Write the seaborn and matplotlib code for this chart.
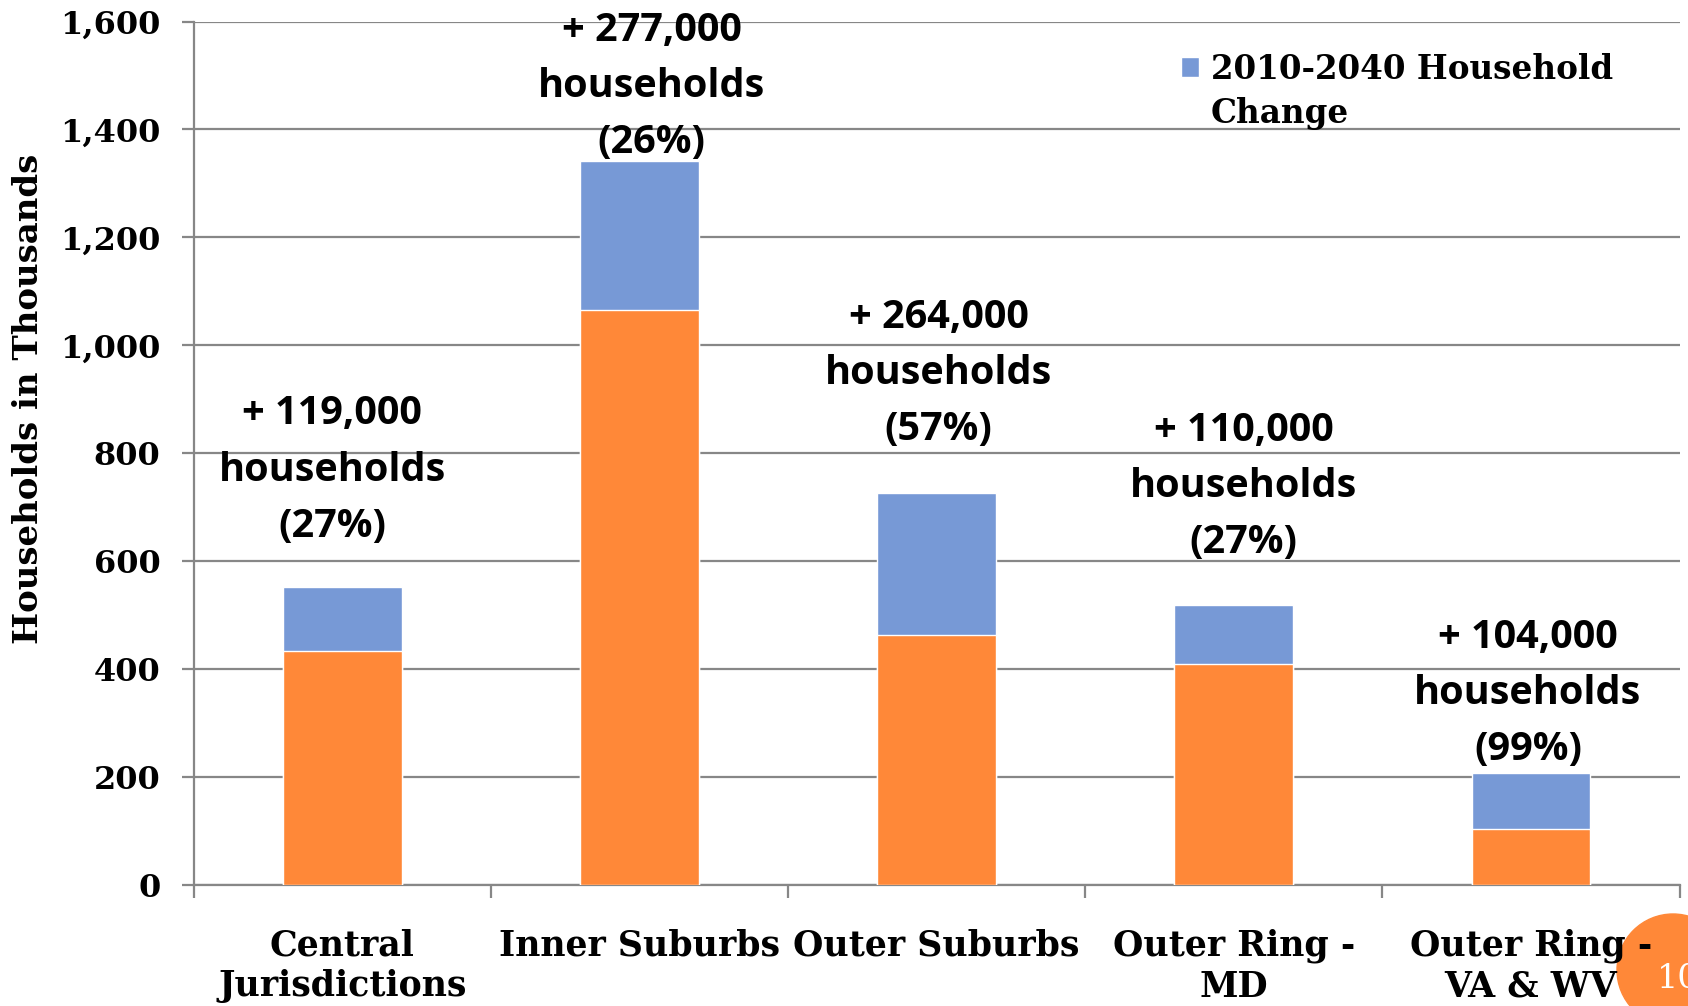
import matplotlib
matplotlib.use("Agg")
import matplotlib.pyplot as plt
import matplotlib.ticker as mticker
from matplotlib.patches import Ellipse
import pandas as pd
import seaborn as sns

# --- Data ---
regions = ["Central\nJurisdictions", "Inner Suburbs", "Outer Suburbs",
           "Outer Ring -\nMD", "Outer Ring -\nVA & WV"]
households_2010 = [433, 1065, 463, 409, 104]
household_change = [119, 277, 264, 110, 104]
change_labels = ["+ 119,000\nhouseholds\n(27%)", "+ 277,000\nhouseholds\n(26%)",
                 "+ 264,000\nhouseholds\n(57%)", "+ 110,000\nhouseholds\n(27%)",
                 "+ 104,000\nhouseholds\n(99%)"]
legend_lines = ["2010-2040 Household", "Change"]
y_ticks = [0, 200, 400, 600, 800, 1000, 1200, 1400, 1600]

# --- Style ---
ORANGE = "#FF8838"
BLUE = "#7799D6"
GRID = "#878787"
SERIF = "DejaVu Serif"
SANS = "Open Sans"

sns.set_style("white")
plt.rcParams["font.family"] = [SERIF]
for key in ["text.color", "axes.labelcolor", "xtick.labelcolor", "ytick.labelcolor"]:
    plt.rcParams[key] = "black"

df = pd.DataFrame({
    "region": regions,
    "base": households_2010,
    "change": household_change,
})
df["total"] = df["base"] + df["change"]

fig = plt.figure(figsize=(16.88, 10.06), dpi=100)
ax = fig.add_axes([0.1148, 0.1203, 0.8802, 0.8583])

sns.barplot(data=df, x="region", y="total", color=BLUE, width=0.4,
            saturation=1, label=legend_lines[0], ax=ax, zorder=3)
sns.barplot(data=df, x="region", y="base", color=ORANGE, width=0.4,
            saturation=1, ax=ax, zorder=3)

ax.set_xlim(-0.5, 4.5)
ax.set_ylim(0, 1600)
ax.set_yticks(y_ticks)
ax.yaxis.set_major_formatter(mticker.StrMethodFormatter("{x:,.0f}"))
ax.yaxis.grid(True, color=GRID, linewidth=1.6, zorder=0)
ax.set_axisbelow(True)

for side in ["top", "right"]:
    ax.spines[side].set_visible(False)
for side in ["left", "bottom"]:
    ax.spines[side].set_color(GRID)
    ax.spines[side].set_linewidth(1.6)

ax.set_xlabel("")
ax.set_ylabel("Households in Thousands", fontsize=24.5, fontweight="bold")
ax.yaxis.set_label_coords(-0.1, 0.563)

ax.tick_params(axis="y", length=9, width=1.6, color=GRID, pad=15,
               labelsize=23, left=True)
ax.tick_params(axis="x", which="major", length=0, pad=31, labelsize=25)
ax.set_xticks(range(len(regions)))
ax.set_xticklabels(regions, linespacing=1.27)
for lbl in ax.get_yticklabels() + ax.get_xticklabels():
    lbl.set_fontweight("bold")
ax.set_xticks([i - 0.5 for i in range(len(regions) + 1)], minor=True)
ax.tick_params(axis="x", which="minor", length=9, width=1.6, color=GRID,
               bottom=True)

# change annotations above each bar (pixel offsets from the bar top)
label_dx = [-10, 12, 2, 10, -3]
label_dy = [117, 74, 119, 118, 79]
for i, txt in enumerate(change_labels):
    ax.annotate(txt, xy=(i, df["total"][i]), xytext=(label_dx[i], label_dy[i]),
                textcoords="offset pixels", ha="center", va="center",
                fontsize=28.5, fontweight="bold", family=SANS,
                linespacing=1.57, zorder=5)

leg_font = {"family": SERIF, "weight": "bold", "size": 23.5}
leg = ax.legend(loc="upper left", bbox_to_anchor=(0.645, 0.998), frameon=False,
                handlelength=0.55, handleheight=0.55, handletextpad=0.35,
                prop=leg_font)

# second legend line sits under the first, aligned with its left edge
fig.canvas.draw()
bb = leg.get_texts()[0].get_window_extent().transformed(fig.transFigure.inverted())
fig.text(bb.x0, bb.y0 - 44 / 1006, legend_lines[1], ha="left", va="bottom",
         fontdict=leg_font)

# slide number badge (behind the tick labels)
fig.add_artist(Ellipse((1673 / 1688, 1 - 970 / 1006), 112 / 1688, 112 / 1006,
                       transform=fig.transFigure, color=ORANGE, zorder=-1))
fig.text(1657 / 1688, 1 - 988 / 1006, "10", color="white", fontsize=24,
         family=SERIF, ha="left", va="baseline", zorder=11)

fig.savefig("out.png", dpi=100)
